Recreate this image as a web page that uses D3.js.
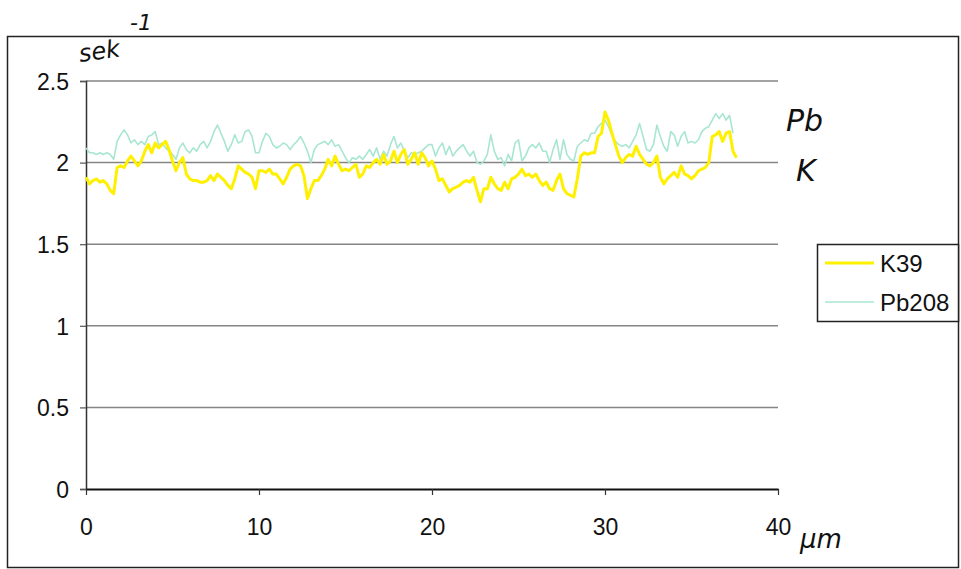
<!DOCTYPE html>
<html>
<head>
<meta charset="utf-8">
<script src="https://cdn.jsdelivr.net/npm/d3@7"></script>
<style>
  html, body { margin: 0; padding: 0; background: #fff; }
  svg { display: block; }
  .tick-label { font-family: "Liberation Sans", Arial, sans-serif; font-size: 23px; fill: #111; }
  .legend-label { font-family: "Liberation Sans", Arial, sans-serif; font-size: 24px; fill: #111; }
  .hand { font-family: "DejaVu Sans", sans-serif; font-style: italic; font-weight: 200; fill: #111; }
</style>
</head>
<body>
<svg id="chart" width="961" height="569"></svg>
<script>
// Sampling step along the line scan, in µm
const stepUm = 0.2;

// Count rates (sek^-1) along the scan
const k39 = [
  1.91,1.87,1.89,1.90,1.88,1.89,1.87,1.83,1.81,1.97,
  1.98,1.97,2.01,2.04,2.01,1.98,2.01,2.07,2.11,2.06,
  2.12,2.09,2.11,2.13,2.08,2.01,1.95,2.00,2.03,1.93,
  1.90,1.89,1.89,1.88,1.88,1.89,1.92,1.89,1.93,1.91,
  1.89,1.86,1.84,1.90,1.98,1.96,1.94,1.93,1.91,1.84,
  1.95,1.95,1.94,1.96,1.93,1.93,1.90,1.87,1.91,1.96,
  1.98,1.99,1.98,1.92,1.78,1.84,1.89,1.89,1.92,1.96,
  2.02,1.98,2.04,1.99,1.95,1.96,1.95,1.97,1.99,1.91,
  1.93,1.98,1.97,2.00,2.02,1.99,2.05,1.99,2.01,2.07,
  2.00,2.05,2.08,1.99,2.02,2.06,1.99,2.06,2.03,1.98,
  2.01,1.96,1.89,1.90,1.86,1.82,1.84,1.85,1.86,1.88,
  1.89,1.88,1.91,1.83,1.76,1.84,1.84,1.91,1.87,1.84,
  1.83,1.88,1.84,1.90,1.91,1.93,1.96,1.92,1.93,1.91,
  1.93,1.89,1.86,1.88,1.84,1.83,1.89,1.93,1.84,1.81,
  1.80,1.79,1.90,2.04,2.06,2.05,2.06,2.06,2.16,2.18,
  2.31,2.26,2.18,2.11,2.04,2.00,2.03,2.05,2.04,2.10,
  2.05,2.02,1.99,1.98,2.00,2.04,1.91,1.87,1.90,1.92,
  1.94,1.91,1.98,1.93,1.92,1.90,1.92,1.95,1.96,1.97,
  2.00,2.16,2.17,2.19,2.13,2.18,2.19,2.07,2.03
];

const pb208 = [
  2.09,2.06,2.06,2.05,2.06,2.05,2.06,2.05,2.02,2.13,
  2.17,2.20,2.17,2.12,2.14,2.11,2.13,2.11,2.16,2.17,
  2.19,2.11,2.12,2.09,2.07,2.05,2.02,2.09,2.12,2.08,
  2.06,2.09,2.07,2.11,2.13,2.09,2.13,2.19,2.23,2.18,
  2.13,2.07,2.11,2.17,2.12,2.13,2.19,2.20,2.16,2.06,
  2.06,2.13,2.18,2.16,2.11,2.09,2.10,2.12,2.11,2.08,
  2.11,2.13,2.16,2.12,2.07,2.00,2.08,2.11,2.12,2.13,
  2.11,2.14,2.10,2.11,2.07,2.03,2.00,2.03,2.02,2.04,
  2.02,2.05,2.08,2.04,2.09,2.02,2.07,2.04,2.11,2.16,
  2.09,2.12,2.07,2.03,2.06,2.05,2.06,2.07,2.09,2.11,
  2.11,2.04,2.09,2.12,2.05,2.10,2.04,2.07,2.09,2.11,
  2.07,2.04,2.07,2.00,1.99,2.01,2.05,2.17,2.07,2.02,
  2.03,1.98,2.05,2.01,2.12,2.14,2.01,2.04,2.09,2.11,
  2.09,2.12,2.07,2.07,2.00,2.08,2.14,2.02,2.14,2.05,
  2.02,2.01,2.10,2.12,2.14,2.13,2.18,2.18,2.22,2.24,
  2.26,2.22,2.17,2.13,2.11,2.10,2.11,2.09,2.13,2.17,
  2.24,2.16,2.08,2.07,2.11,2.23,2.16,2.10,2.07,2.19,
  2.17,2.10,2.16,2.19,2.12,2.13,2.12,2.14,2.19,2.21,
  2.22,2.26,2.30,2.27,2.30,2.26,2.29,2.18
];

const seriesNames = ["K39", "Pb208"];
const seriesColors = ["#fff000", "#a8e6d2"];
const xTicks = [0, 10, 20, 30, 40];
const yTicks = [0, 0.5, 1, 1.5, 2, 2.5];

const svg = d3.select("#chart");

// Outer frame
svg.append("rect")
  .attr("x", 7.5).attr("y", 36.5)
  .attr("width", 951).attr("height", 531)
  .attr("fill", "none").attr("stroke", "#222").attr("stroke-width", 1.5);

const x = d3.scaleLinear().domain([0, 40]).range([86, 778]);
const y = d3.scaleLinear().domain([0, 2.5]).range([489, 81]);

// Horizontal gridlines
svg.append("g")
  .selectAll("line")
  .data(yTicks.filter(d => d > 0))
  .join("line")
  .attr("x1", x(0)).attr("x2", x(40))
  .attr("y1", d => y(d)).attr("y2", d => y(d))
  .attr("stroke", "#858585").attr("stroke-width", 1.5);

// Y axis
const yAxis = d3.axisLeft(y).tickValues(yTicks).tickSize(6).tickFormat(d3.format("~g"));
const gy = svg.append("g").attr("transform", `translate(${x(0)},0)`).call(yAxis);
gy.select(".domain").attr("stroke", "#333").attr("stroke-width", 1.5);
gy.selectAll(".tick line").attr("stroke", "#555").attr("stroke-width", 1.2);
gy.selectAll(".tick text").attr("class", "tick-label").attr("x", -17).attr("dy", "0.36em");

// X axis
const xAxis = d3.axisBottom(x).tickValues(xTicks).tickSize(6).tickSizeOuter(0);
const gx = svg.append("g").attr("transform", `translate(0,${y(0)})`).call(xAxis);
gx.select(".domain").attr("stroke", "#111").attr("stroke-width", 1.8);
gx.selectAll(".tick line").attr("stroke", "#333").attr("stroke-width", 1.2);
gx.selectAll(".tick text").attr("class", "tick-label").attr("y", 30).attr("dy", "0.71em");

// Lines
const line = d3.line()
  .x((d, i) => x(i * stepUm))
  .y(d => y(d));

svg.append("path")
  .datum(pb208)
  .attr("d", line)
  .attr("fill", "none")
  .attr("stroke", seriesColors[1])
  .attr("stroke-width", 1.6)
  .attr("stroke-linejoin", "round");

svg.append("path")
  .datum(k39)
  .attr("d", line)
  .attr("fill", "none")
  .attr("stroke", seriesColors[0])
  .attr("stroke-width", 3)
  .attr("stroke-linejoin", "round");

// Legend
const legend = svg.append("g");
legend.append("rect")
  .attr("x", 817.5).attr("y", 244.5)
  .attr("width", 141).attr("height", 77)
  .attr("fill", "#fff").attr("stroke", "#222").attr("stroke-width", 1.5);
seriesNames.forEach((name, i) => {
  const cy = 263 + i * 39;
  legend.append("line")
    .attr("x1", 825).attr("x2", 874)
    .attr("y1", cy).attr("y2", cy)
    .attr("stroke", seriesColors[i])
    .attr("stroke-width", i === 0 ? 3 : 1.6);
  legend.append("text")
    .attr("class", "legend-label")
    .attr("x", 880).attr("y", cy + 9)
    .text(name);
});

// Handwritten unit notes
svg.append("text").attr("class", "hand")
  .attr("x", 80).attr("y", 62).attr("font-size", 24)
  .attr("transform", "rotate(-8,80,62)")
  .text("sek");
svg.append("text").attr("class", "hand")
  .attr("x", 130).attr("y", 30).attr("font-size", 22)
  .text("-1");
svg.append("text").attr("class", "hand")
  .attr("x", 786).attr("y", 131).attr("font-size", 30)
  .text("Pb");
svg.append("text").attr("class", "hand")
  .attr("x", 796).attr("y", 181).attr("font-size", 30)
  .text("K");
svg.append("text").attr("class", "hand")
  .attr("x", 800).attr("y", 548).attr("font-size", 26)
  .text("μm");
</script>
</body>
</html>
